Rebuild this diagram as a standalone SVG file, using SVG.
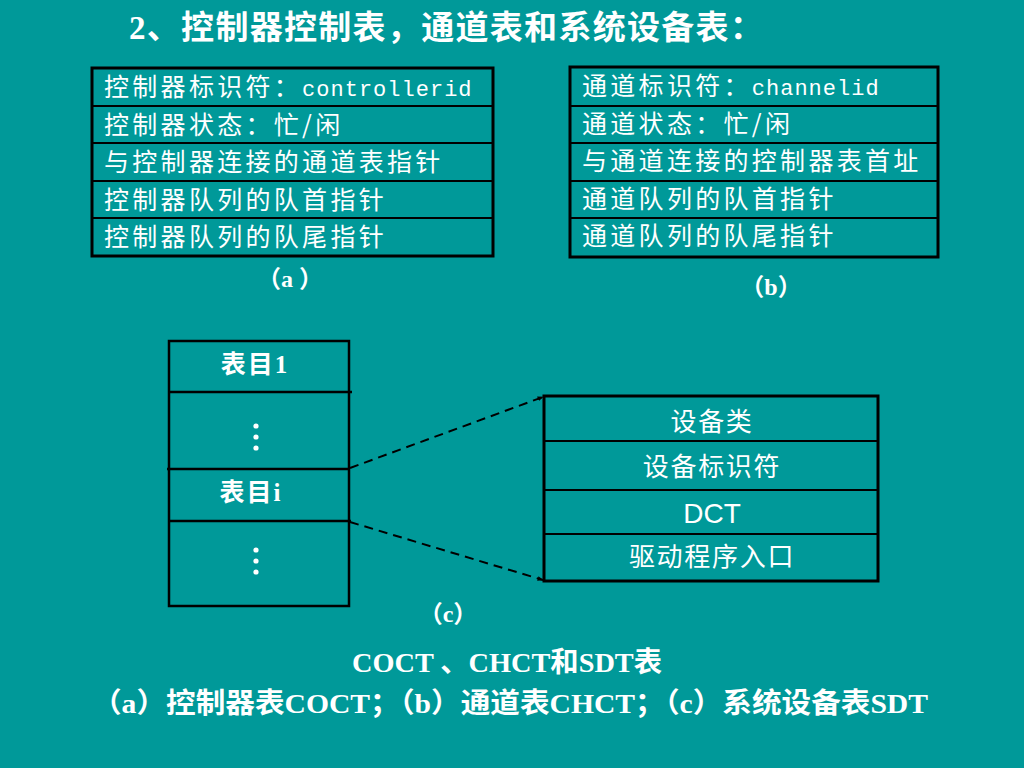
<svg xmlns="http://www.w3.org/2000/svg" width="1024" height="768" viewBox="0 0 1024 768">
<defs>
<style>
.bg{fill:#009999}
.box{fill:none;stroke:#000;stroke-width:3}
.div{stroke:#000;stroke-width:2}
.row{font-family:'Noto Sans CJK SC',sans-serif;font-size:25px;fill:#fff;letter-spacing:3.3px}
.mono{font-family:'Liberation Mono',monospace;font-size:22px;letter-spacing:1px}
.cell{font-family:'Noto Sans CJK SC',sans-serif;font-size:26px;fill:#fff;letter-spacing:1.7px;text-anchor:middle}
.dct{font-family:'Liberation Sans',sans-serif;font-size:28px;letter-spacing:0}
.bold{font-family:'Liberation Serif','Noto Sans CJK SC',serif;font-weight:bold;fill:#fff}
.dash{fill:none;stroke:#000;stroke-width:2;stroke-dasharray:9 6}
</style>
<marker id="arr" viewBox="0 0 10 10" refX="9" refY="5" markerWidth="6" markerHeight="6" orient="auto" markerUnits="userSpaceOnUse">
<path d="M0,1 L10,5 L0,9 z" fill="#000"/>
</marker>
</defs>
<rect class="bg" x="0" y="0" width="1024" height="768"/>

<text id="title" class="bold" x="129" y="39" font-size="33" letter-spacing="1.3">2、控制器控制表，通道表和系统设备表：</text>

<g id="table-a">
<rect class="box" x="92" y="68" width="401" height="188"/>
<line class="div" x1="92" y1="106" x2="493" y2="106"/>
<line class="div" x1="92" y1="143" x2="493" y2="143"/>
<line class="div" x1="92" y1="181" x2="493" y2="181"/>
<line class="div" x1="92" y1="218" x2="493" y2="218"/>
<text class="row" x="104" y="96">控制器标识符：<tspan class="mono">controllerid</tspan></text>
<text class="row" x="104" y="133.5">控制器状态：忙/闲</text>
<text class="row" x="104" y="171">与控制器连接的通道表指针</text>
<text class="row" x="104" y="208.5">控制器队列的队首指针</text>
<text class="row" x="104" y="245.5">控制器队列的队尾指针</text>
</g>
<text id="label-a" class="bold" x="290" y="287" font-size="24" text-anchor="middle">（a ）</text>

<g id="table-b">
<rect class="box" x="570" y="67" width="368" height="190"/>
<line class="div" x1="570" y1="106" x2="938" y2="106"/>
<line class="div" x1="570" y1="143" x2="938" y2="143"/>
<line class="div" x1="570" y1="181" x2="938" y2="181"/>
<line class="div" x1="570" y1="218" x2="938" y2="218"/>
<text class="row" x="582" y="95">通道标识符：<tspan class="mono">channelid</tspan></text>
<text class="row" x="582" y="132.5">通道状态：忙/闲</text>
<text class="row" x="582" y="170">与通道连接的控制器表首址</text>
<text class="row" x="582" y="207.5">通道队列的队首指针</text>
<text class="row" x="582" y="244.5">通道队列的队尾指针</text>
</g>
<text id="label-b" class="bold" x="771" y="295" font-size="24" text-anchor="middle">（b）</text>

<g id="sdt-list">
<rect fill="none" stroke="#000" stroke-width="2.5" x="169" y="341" width="180" height="265"/>
<line stroke="#000" stroke-width="2.5" x1="169" y1="392" x2="352" y2="392"/>
<line stroke="#000" stroke-width="2.5" x1="167" y1="469" x2="349" y2="469"/>
<line stroke="#000" stroke-width="2.5" x1="169" y1="521" x2="351" y2="521"/>
<text class="bold" x="255" y="373" font-size="25" text-anchor="middle" letter-spacing="2">表目1</text>
<circle cx="256" cy="426" r="2.6" fill="#fff"/>
<circle cx="256" cy="437" r="2.6" fill="#fff"/>
<circle cx="256" cy="448" r="2.6" fill="#fff"/>
<text class="bold" x="251" y="501" font-size="25" text-anchor="middle" letter-spacing="2">表目i</text>
<circle cx="256" cy="550" r="2.6" fill="#fff"/>
<circle cx="256" cy="561" r="2.6" fill="#fff"/>
<circle cx="256" cy="572" r="2.6" fill="#fff"/>
</g>

<g id="sdt-entry">
<rect class="box" x="544" y="396" width="334" height="185"/>
<line class="div" x1="544" y1="441" x2="878" y2="441"/>
<line class="div" x1="544" y1="490" x2="878" y2="490"/>
<line class="div" x1="544" y1="534" x2="878" y2="534"/>
<text class="cell" x="712" y="431">设备类</text>
<text class="cell" x="712" y="476">设备标识符</text>
<text class="cell dct" x="712" y="523">DCT</text>
<text class="cell" x="712" y="566">驱动程序入口</text>
</g>

<g id="connectors">
<line class="dash" x1="350" y1="468" x2="543" y2="397" marker-end="url(#arr)"/>
<line class="dash" x1="350" y1="522" x2="543" y2="580" marker-end="url(#arr)"/>
</g>

<text id="label-c" class="bold" x="448" y="622" font-size="24" text-anchor="middle">（c）</text>
<text id="caption1" class="bold" x="352" y="672" font-size="28" textLength="310" lengthAdjust="spacingAndGlyphs">COCT 、CHCT和SDT表</text>
<text id="caption2" class="bold" x="92" y="713" font-size="28" textLength="836" lengthAdjust="spacingAndGlyphs">（a）控制器表COCT；（b）通道表CHCT；（c）系统设备表SDT</text>
</svg>
